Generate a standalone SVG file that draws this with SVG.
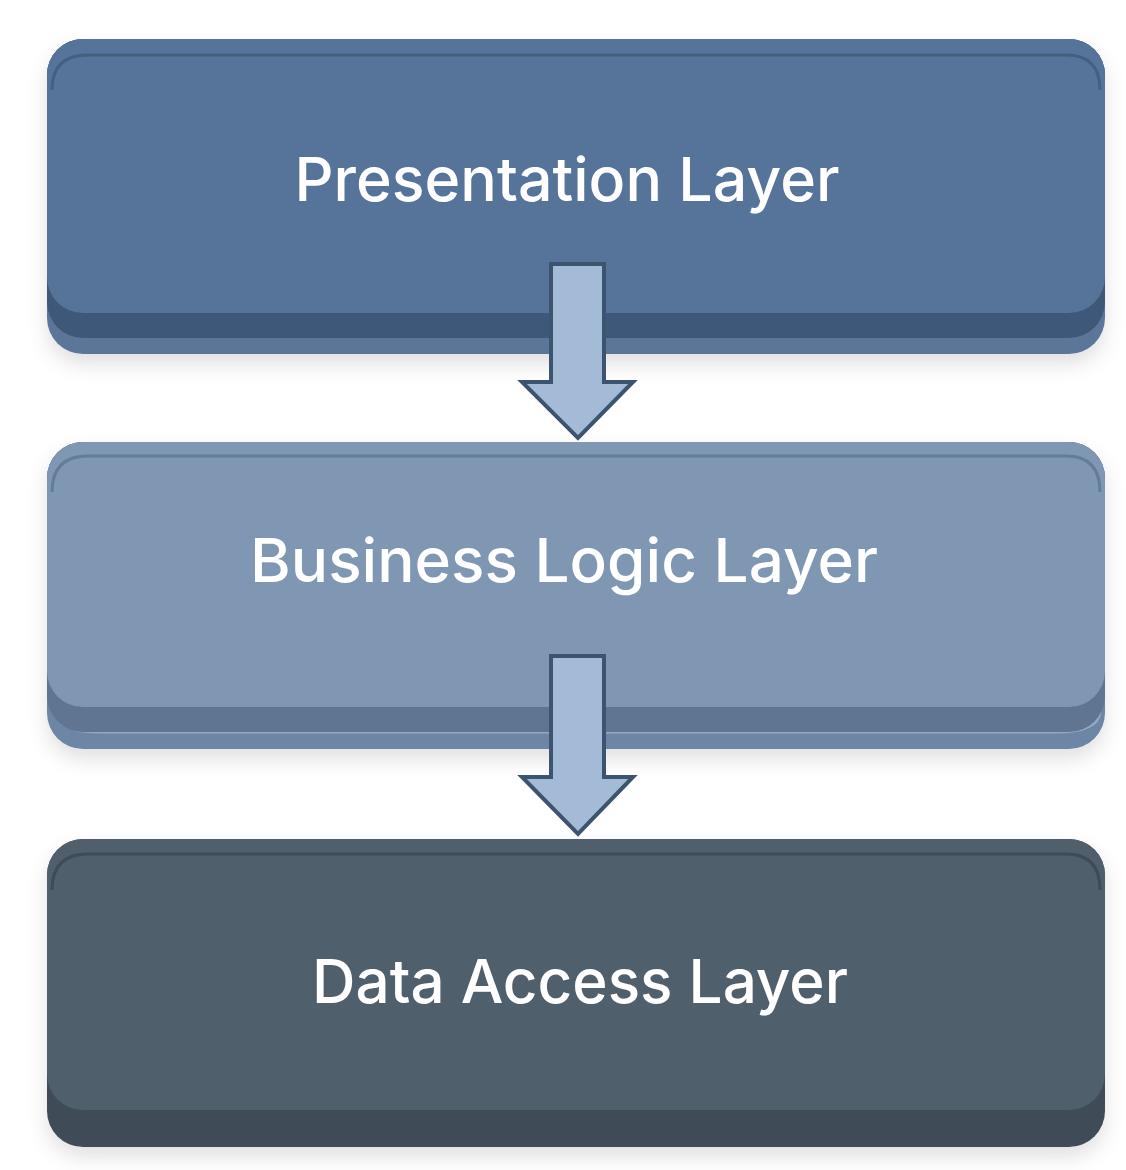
<svg xmlns="http://www.w3.org/2000/svg" width="1126" height="1170" viewBox="0 0 1126 1170">
<style>
.lbl{font-family:Inter,"Open Sans","Liberation Sans",sans-serif;font-size:61px;font-weight:500;fill:#ffffff;text-anchor:middle}
.arrow{fill:#a4bbd7;stroke:#3c546f;stroke-width:4;stroke-linejoin:miter}
</style>
<defs>
<filter id="sh" x="-10%" y="-10%" width="120%" height="130%">
<feDropShadow dx="0" dy="10" stdDeviation="10" flood-color="#000" flood-opacity="0.12"/>
</filter>
</defs>
<rect width="1126" height="1170" fill="#ffffff"/>
<g id="presentation" filter="url(#sh)">
<rect x="47" y="39" width="1058" height="315" rx="36" fill="#5b7699"/>
<rect x="47" y="39" width="1058" height="299" rx="36" fill="#3e5878"/>
<rect x="47" y="39" width="1058" height="274" rx="36" fill="#56739a"/>
<path d="M52,90 Q52,55 88,55 L1066,55 Q1100,55 1100,90" fill="none" stroke="#45607f" stroke-width="3"/>
<text class="lbl" x="567" y="201" textLength="545" lengthAdjust="spacingAndGlyphs">Presentation Layer</text>
</g>
<g id="business" filter="url(#sh)">
<rect x="47" y="442" width="1058" height="307" rx="36" fill="#6d86a5"/>
<path d="M54,712 Q60,732 100,732 L1055,732 Q1098,732 1100,712" fill="none" stroke="#93a9c3" stroke-width="3"/>
<rect x="47" y="442" width="1058" height="290" rx="36" fill="#5f7592"/>
<rect x="47" y="442" width="1058" height="265" rx="36" fill="#7f97b2"/>
<path d="M52,492 Q52,456 88,456 L1066,456 Q1100,456 1100,492" fill="none" stroke="#647c9a" stroke-width="3"/>
<text class="lbl" x="564" y="582" textLength="628" lengthAdjust="spacingAndGlyphs">Business Logic Layer</text>
</g>
<g id="data" filter="url(#sh)">
<rect x="47" y="839" width="1058" height="308" rx="36" fill="#3f4b58"/>
<rect x="47" y="839" width="1058" height="271" rx="36" fill="#505e6c"/>
<path d="M52,890 Q52,854 88,854 L1066,854 Q1100,854 1100,890" fill="none" stroke="#3f4b58" stroke-width="3"/>
<text class="lbl" x="580" y="1003" textLength="536" lengthAdjust="spacingAndGlyphs">Data Access Layer</text>
</g>
<g id="connectors">
<path class="arrow" d="M551,264 L604,264 L604,382 L633,382 L578,438 L522,382 L551,382 Z"/>
<path class="arrow" d="M551,656 L604,656 L604,777 L633,777 L578,834 L522,777 L551,777 Z"/>
</g>
</svg>
